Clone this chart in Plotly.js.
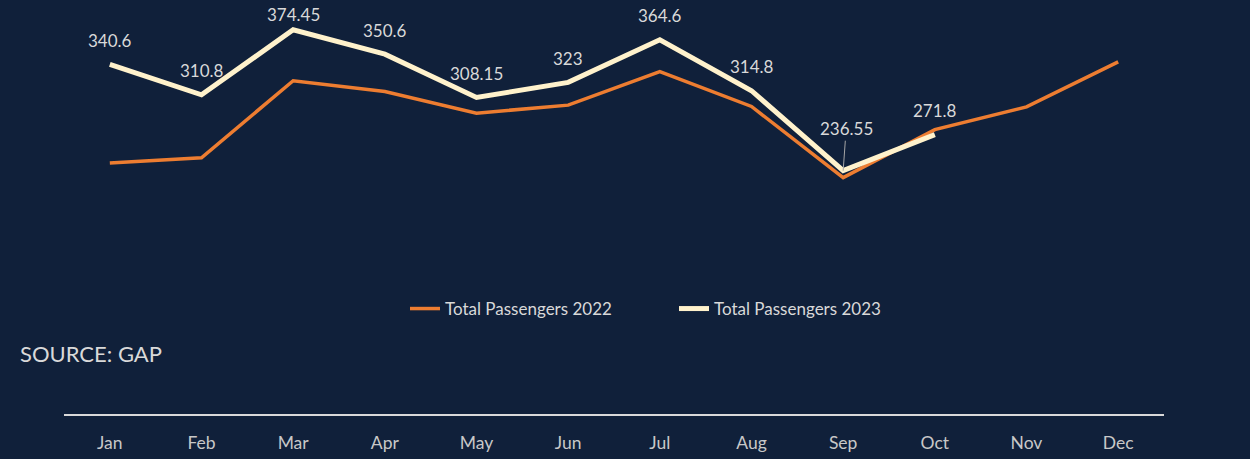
<!DOCTYPE html>
<html>
<head>
<meta charset="utf-8">
<script src="https://cdn.plot.ly/plotly-3.0.1.min.js"></script>
<style>
  html, body { margin: 0; padding: 0; background: #10203a; }
  #chart { width: 1250px; height: 459px; }
</style>
</head>
<body>
<div id="chart"></div>
<script>
const months = ["Jan", "Feb", "Mar", "Apr", "May", "Jun", "Jul", "Aug", "Sep", "Oct", "Nov", "Dec"];
const passengers2022 = [244.2, 249.2, 324.6, 314.0, 292.9, 300.7, 333.5, 299.4, 229.8, 276.7, 299.0, 343.1];
const passengers2023 = [340.6, 310.8, 374.45, 350.6, 308.15, 323, 364.6, 314.8, 236.55, 271.8];
const seriesNames = ["Total Passengers 2022", "Total Passengers 2023"];
const sourceText = "SOURCE: GAP";

const textColor = "#d9d9d9";
const fontFamily = "Lato, 'Open Sans', sans-serif";

const traces = [
  {
    x: months,
    y: passengers2022,
    name: seriesNames[0],
    type: "scatter",
    mode: "lines",
    line: { color: "#ED7D31", width: 3.5 },
    hoverinfo: "x+y"
  },
  {
    x: months.slice(0, passengers2023.length),
    y: passengers2023,
    name: seriesNames[1],
    type: "scatter",
    mode: "lines",
    line: { color: "#FFF2CC", width: 5 },
    hoverinfo: "x+y"
  }
];

const annotations = passengers2023.map((v, i) => {
  const base = {
    x: months[i],
    y: v,
    xref: "x",
    yref: "y",
    text: String(v),
    font: { family: fontFamily, size: 17, color: textColor }
  };
  if (months[i] === "Sep") {
    return Object.assign(base, {
      showarrow: true,
      ax: 3,
      ay: -42,
      arrowhead: 0,
      arrowwidth: 1,
      arrowcolor: "#a6a6a6",
      standoff: 0
    });
  }
  const shift = months[i] === "Mar" ? 15 : 24;
  return Object.assign(base, { showarrow: false, yshift: shift });
});

annotations.push({
  xref: "paper",
  yref: "paper",
  x: -46 / 1100,
  y: (414 - 353) / 414,
  xanchor: "left",
  yanchor: "middle",
  showarrow: false,
  text: sourceText,
  font: { family: fontFamily, size: 22, color: textColor }
});

const layout = {
  width: 1250,
  height: 459,
  paper_bgcolor: "#10203a",
  plot_bgcolor: "#10203a",
  margin: { l: 64, r: 86, t: 0, b: 45 },
  showlegend: true,
  legend: {
    orientation: "h",
    x: (405 - 64) / 1100,
    xanchor: "left",
    y: (414 - 309) / 414,
    yanchor: "middle",
    entrywidth: 224,
    entrywidthmode: "pixels",
    font: { family: fontFamily, size: 17, color: textColor },
    bgcolor: "rgba(0,0,0,0)"
  },
  xaxis: {
    type: "category",
    range: [-0.5, 11.5],
    showgrid: false,
    zeroline: false,
    showline: true,
    linecolor: "#d9d9d9",
    linewidth: 1.5,
    ticks: "",
    ticklabelstandoff: 12,
    tickfont: { family: fontFamily, size: 17.5, color: "#c8c8c8" },
    fixedrange: true
  },
  yaxis: {
    range: [-1.55, 403.6],
    showgrid: false,
    zeroline: false,
    showline: false,
    showticklabels: false,
    ticks: "",
    fixedrange: true
  },
  annotations: annotations
};

Plotly.newPlot("chart", traces, layout, { displayModeBar: false, staticPlot: true });
</script>
</body>
</html>
